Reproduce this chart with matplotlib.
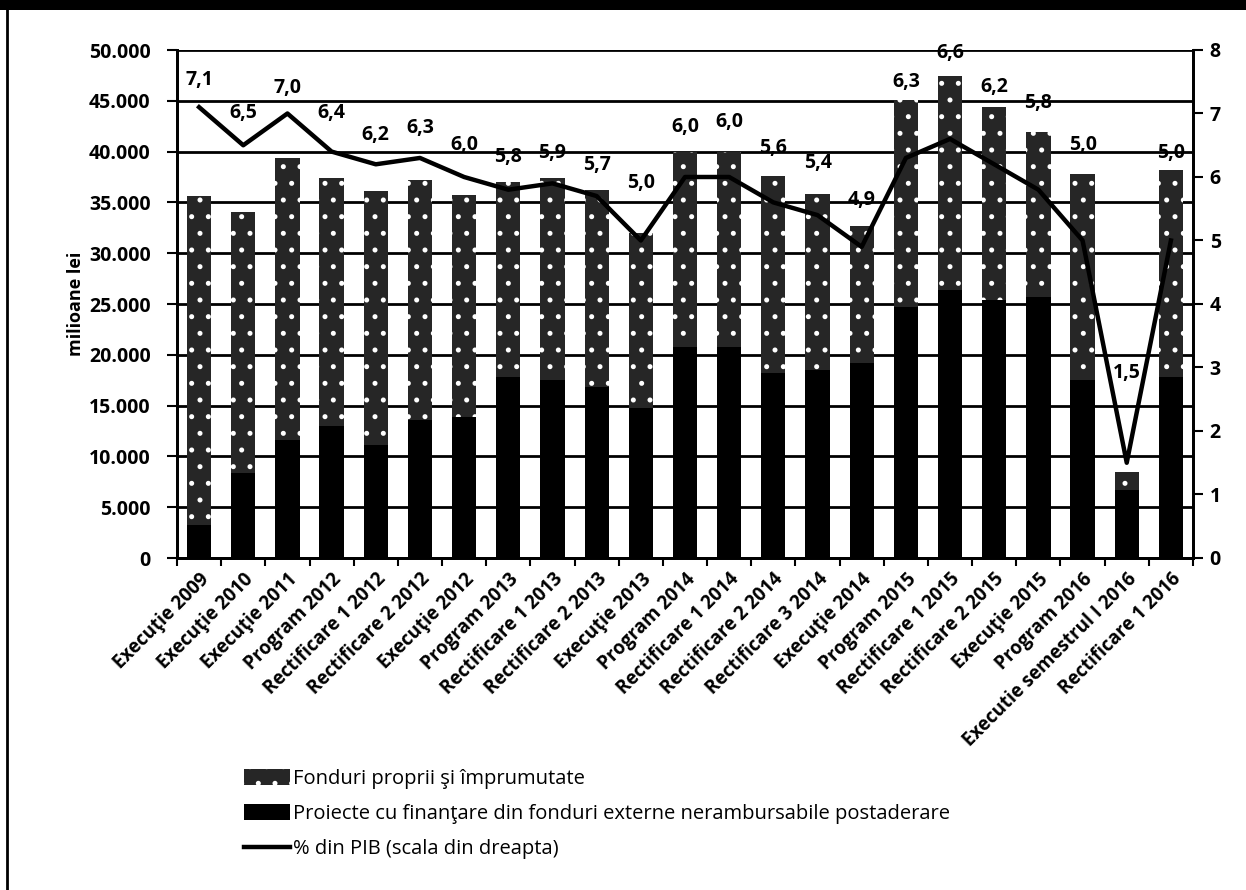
import matplotlib
matplotlib.use("Agg")
import matplotlib.pyplot as plt
import matplotlib.patches as mpatches
from matplotlib.lines import Line2D
from matplotlib.ticker import FuncFormatter
import numpy as np

plt.rcParams['font.family'] = ['Open Sans', 'DejaVu Sans']
plt.rcParams['hatch.linewidth'] = 1.2

categorii = ["Execuţie 2009", "Execuţie 2010", "Execuţie 2011", "Program 2012",
             "Rectificare 1 2012", "Rectificare 2 2012", "Execuţie 2012", "Program 2013",
             "Rectificare 1 2013", "Rectificare 2 2013", "Execuţie 2013", "Program 2014",
             "Rectificare 1 2014", "Rectificare 2 2014", "Rectificare 3 2014", "Execuţie 2014",
             "Program 2015", "Rectificare 1 2015", "Rectificare 2 2015", "Execuţie 2015",
             "Program 2016", "Executie semestrul I 2016", "Rectificare 1 2016"]

# milioane lei
proiecte_ue = [3200, 8400, 11600, 13000, 11100, 13600, 13900, 17800, 17500, 16800, 14800, 20800,
               20800, 18200, 18500, 19200, 24700, 26400, 25400, 25700, 17500, 6700, 17800]
fonduri_proprii = [32400, 25700, 27800, 24400, 25000, 23600, 21800, 19200, 19900, 19400, 17200, 19200,
                   19200, 19400, 17300, 13500, 20400, 21000, 19000, 16200, 20300, 1800, 20400]
# % din PIB
pct_pib = [7.1, 6.5, 7.0, 6.4, 6.2, 6.3, 6.0, 5.8, 5.9, 5.7, 5.0, 6.0,
           6.0, 5.6, 5.4, 4.9, 6.3, 6.6, 6.2, 5.8, 5.0, 1.5, 5.0]

# cat de sus stau etichetele fata de punct (pixeli)
label_off = [27, 32, 25, 39, 29, 30, 32, 33, 30, 31, 57, 50,
             55, 54, 52, 47, 76, 86, 77, 87, 95, 90, 87]

x = np.arange(len(categorii))

fig = plt.figure(figsize=(12.46, 8.90), dpi=100)
ax = fig.add_axes([177 / 1246, 1 - 558 / 890, 1016 / 1246, 508 / 890])

ax.bar(x, proiecte_ue, width=0.55, color='black', zorder=2)
ax.bar(x, fonduri_proprii, width=0.55, bottom=proiecte_ue, facecolor='#262626',
       edgecolor='white', hatch='.', linewidth=0, zorder=2)

ax.set_xlim(-0.5, len(categorii) - 0.5)
ax.set_ylim(0, 50000)
ax.set_yticks(np.arange(0, 50001, 5000))
ax.yaxis.set_major_formatter(FuncFormatter(lambda v, p: f"{int(v):,}".replace(",", ".")))
ax.grid(axis='y', color='black', linewidth=2, zorder=0)
ax.set_axisbelow(True)

ax.set_xticks(x)
ax.set_xticklabels(categorii, rotation=45, ha='right', rotation_mode='anchor',
                   fontsize=13.5, fontweight='bold')
ax.set_xticks(np.arange(-0.5, len(categorii)), minor=True)
ax.tick_params(axis='x', which='major', length=0, pad=8)
ax.tick_params(axis='x', which='minor', length=6, width=1.5, direction='out')
ax.tick_params(axis='y', length=7, width=1.5, direction='out', labelsize=14, pad=12)
for lab in ax.get_yticklabels():
    lab.set_fontweight('bold')
ax.set_ylabel("milioane lei", fontsize=13, fontweight='bold', labelpad=3)

for s in ['left', 'bottom', 'right']:
    ax.spines[s].set_linewidth(2)
ax.spines['top'].set_visible(False)

ax2 = ax.twinx()
ax2.plot(x, pct_pib, color='black', linewidth=3.2, zorder=5)
ax2.set_ylim(0, 8)
ax2.set_yticks(range(0, 9))
ax2.tick_params(axis='y', length=7, width=1.5, direction='out', labelsize=14, pad=5)
for lab in ax2.get_yticklabels():
    lab.set_fontweight('bold')
for s in ['left', 'bottom', 'right']:
    ax2.spines[s].set_linewidth(2)
ax2.spines['top'].set_visible(False)

for xi, v, off in zip(x, pct_pib, label_off):
    ax2.annotate(f"{v:.1f}".replace(".", ","), (xi, v), xytext=(0, off),
                 textcoords='offset pixels', ha='center', va='center',
                 fontsize=14, fontweight='bold', zorder=6)

handles = [
    mpatches.Patch(facecolor='#262626', edgecolor='white', hatch='.', linewidth=0,
                   label="Fonduri proprii şi împrumutate"),
    mpatches.Patch(facecolor='black', label="Proiecte cu finanţare din fonduri externe nerambursabile postaderare"),
    Line2D([0], [0], color='black', linewidth=3.2, label="% din PIB (scala din dreapta)"),
]
fig.legend(handles=handles, loc='upper left', bbox_to_anchor=(236 / 1246, 1 - 761 / 890),
           frameon=False, fontsize=14.5, labelspacing=0.75, handlelength=2.3,
           handleheight=0.8, handletextpad=0.15, borderaxespad=0)

# chenarul scanat: banda neagra sus si linia din stanga
fig.patches.append(mpatches.Rectangle((0, 1 - 10 / 890), 1, 10 / 890, transform=fig.transFigure,
                                      facecolor='black', edgecolor='none'))
fig.lines.append(Line2D([7 / 1246, 7 / 1246], [0, 1], transform=fig.transFigure,
                        color='black', linewidth=2))

fig.savefig("out.png", dpi=100, facecolor='white')
